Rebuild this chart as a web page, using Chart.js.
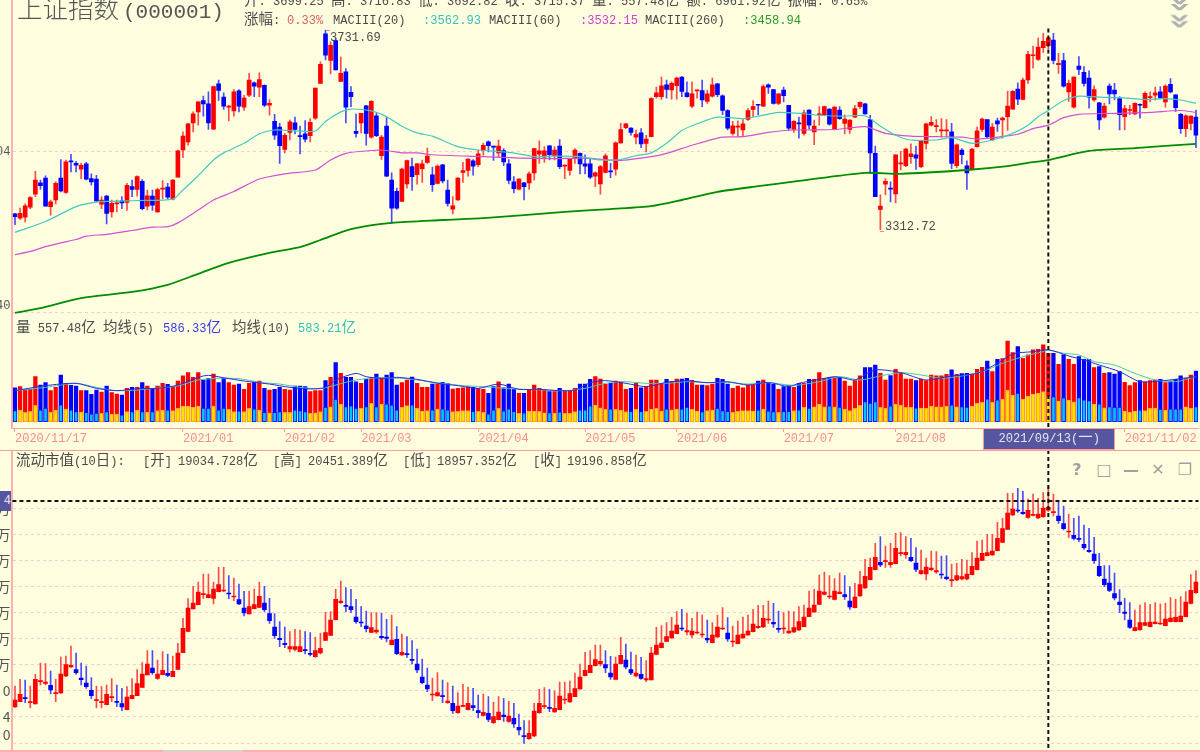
<!DOCTYPE html>
<html>
<head>
<meta charset="utf-8">
<title>上证指数(000001)</title>
<script src="https://cdn.jsdelivr.net/npm/chart.js@4"></script>
<style>
html, body { margin: 0; padding: 0; background: #ffffe0; }
#page { position: relative; width: 1200px; height: 752px; overflow: hidden; background: #ffffe0; }
canvas { position: absolute; left: 0; display: block; }
.txt { position: absolute; white-space: pre; font: 12.08px/16px "Liberation Mono", monospace; color: #4a4a4a; }
.txt .cjk { font-family: "Noto Sans CJK SC"; font-size: 14.5px; line-height: 0; }
.rule { position: absolute; left: 0; width: 1200px; height: 1px; background: #ff9c9c; }
</style>
</head>
<body>
<div id="page">
  <canvas id="price-chart" width="1200" height="318" style="top:0"></canvas>
  <canvas id="volume-chart" width="1200" height="132" style="top:318px"></canvas>
  <canvas id="cap-chart" width="1200" height="300" style="top:450px"></canvas>
</div>
<script>
// --- Price candles (index points) ---
const priceHigh = [
3347,3358,3367,3382,3435,3417,3426,3375,3413,3460,3459,3471,3456,3452,3454,3430,3427,3382,3385,3375,
3375,3382,3410,3417,3426,3418,3396,3396,3400,3416,3410,3418,3480,3518,3536,3560,3581,3593,3602,3614,
3627,3600,3574,3607,3607,3595,3641,3623,3642,3617,3586,3555,3536,3515,3543,3549,3530,3542,3546,3610,
3665,3732,3707,3714,3675,3651,3613,3556,3557,3574,3584,3557,3511,3549,3432,3400,3442,3459,3463,3452,
3459,3484,3444,3449,3450,3417,3382,3422,3454,3462,3460,3480,3494,3499,3488,3501,3483,3460,3424,3420,
3412,3434,3483,3499,3487,3490,3487,3502,3449,3462,3483,3474,3470,3461,3434,3448,3472,3452,3497,3536,
3536,3527,3522,3525,3511,3590,3612,3633,3627,3623,3633,3634,3623,3623,3606,3627,3606,3631,3620,3596,
3565,3540,3541,3544,3567,3584,3576,3617,3619,3607,3598,3612,3574,3542,3549,3564,3565,3543,3571,3572,
3567,3571,3571,3554,3544,3574,3581,3578,3553,3488,3386,3420,3413,3470,3477,3484,3493,3488,3501,3536,
3550,3544,3546,3544,3536,3493,3483,3457,3483,3528,3547,3544,3536,3547,3549,3603,3605,3621,3631,3687,
3698,3715,3725,3716.83,3725,3683,3683,3627,3634,3676,3655,3646,3615,3580,3578,3619,3620,3592,3574,3574,
3579,3577,3602,3602,3612,3613,3617,3630,3596,3557,3554,3552,3564];
const priceLow = [
3323,3334,3329,3357,3382,3398,3362,3343,3367,3392,3389,3434,3434,3420,3417,3406,3371,3357,3325,3339,
3350,3357,3353,3382,3383,3354,3354,3353,3349,3378,3378,3375,3423,3464,3490,3518,3532,3551,3523,3523,
3584,3565,3541,3551,3560,3563,3592,3592,3592,3571,3553,3502,3452,3474,3501,3514,3472,3497,3497,3544,
3620,3669,3640,3648,3624,3537,3571,3507,3516,3490,3505,3508,3460,3424,3326,3355,3372,3400,3395,3408,
3412,3452,3393,3409,3411,3362,3346,3374,3412,3425,3427,3445,3469,3476,3458,3466,3447,3409,3390,3396,
3375,3397,3417,3452,3454,3459,3459,3441,3420,3427,3452,3430,3430,3420,3403,3387,3432,3422,3427,3494,
3525,3511,3493,3485,3476,3508,3589,3586,3589,3587,3587,3592,3591,3569,3589,3571,3578,3591,3592,3554,
3522,3511,3509,3509,3542,3550,3554,3571,3599,3576,3575,3581,3521,3517,3505,3511,3525,3491,3532,3552,
3532,3522,3544,3514,3515,3548,3567,3555,3431,3382,3312.72,3386,3371,3369,3438,3445,3452,3439,3443,3482,
3530,3518,3507,3508,3441,3443,3451,3397,3438,3486,3519,3505,3500,3519,3505,3521,3566,3575,3585,3620,
3652,3668,3685,3692.82,3661,3641,3612,3582,3568,3638,3614,3568,3582,3523,3547,3577,3585,3522,3522,3554,
3554,3547,3568,3581,3585,3588,3570,3600,3561,3515,3508,3522,3485];
const priceOpen = [
3346,3337,3339,3360,3387,3411,3421,3361,3375,3421,3391,3457,3452,3440,3451,3420,3419,3366,3383,3350,
3367,3373,3370,3403,3397,3414,3362,3383,3350,3398,3402,3377,3423,3480,3497,3537,3560,3584,3577,3524,
3619,3591,3570,3562,3604,3570,3595,3621,3612,3616,3574,3540,3528,3481,3517,3537,3509,3514,3510,3547,
3620,3724,3668,3710,3624,3644,3601,3519,3537,3573,3507,3552,3468,3530,3417,3393,3372,3409,3445,3428,
3441,3454,3428,3410,3449,3396,3356,3375,3433,3437,3457,3449,3479,3497,3487,3474,3479,3451,3413,3398,
3411,3411,3432,3471,3465,3489,3468,3488,3446,3437,3462,3473,3451,3451,3425,3409,3433,3436,3440,3495,
3527,3526,3507,3516,3494,3508,3592,3592,3617,3606,3615,3633,3600,3572,3604,3605,3582,3593,3619,3594,
3563,3515,3528,3522,3544,3565,3575,3572,3617,3607,3578,3606,3574,3523,3537,3515,3564,3518,3554,3554,
3566,3523,3564,3536,3523,3549,3571,3577,3544,3473,3355,3408,3400,3388,3451,3447,3466,3470,3445,3494,
3532,3529,3520,3520,3518,3447,3480,3447,3440,3487,3523,3544,3501,3541,3543,3550,3566,3608,3586,3627,
3678,3670,3695,3699.25,3711,3659,3668,3602,3570,3656,3643,3631,3585,3579,3549,3614,3606,3588,3550,3563,
3556,3576,3569,3590,3595,3602,3581,3618,3596,3555,3525,3536,3549];
const priceClose = [
3340,3347,3363,3380,3417,3405,3362,3371,3410,3394,3455,3455,3448,3448,3419,3413,3373,3375,3347,3368,
3368,3369,3406,3397,3424,3357,3384,3364,3397,3400,3381,3417,3478,3509,3535,3556,3581,3577,3537,3613,
3605,3572,3572,3602,3572,3589,3627,3614,3628,3574,3578,3511,3489,3511,3539,3523,3508,3503,3538,3610,
3660,3679,3700,3648,3641,3570,3592,3515,3557,3515,3582,3510,3507,3425,3358,3358,3440,3458,3424,3451,
3451,3467,3407,3446,3415,3368,3363,3421,3437,3461,3446,3472,3490,3489,3486,3488,3455,3416,3399,3419,
3403,3430,3483,3478,3478,3470,3480,3445,3447,3461,3480,3451,3446,3423,3432,3445,3468,3434,3495,3523,
3535,3517,3513,3493,3503,3588,3600,3615,3607,3620,3631,3603,3592,3598,3605,3585,3598,3617,3596,3563,
3526,3531,3529,3535,3563,3571,3574,3613,3612,3578,3598,3594,3526,3540,3535,3558,3532,3530,3555,3571,
3534,3570,3546,3545,3543,3567,3580,3556,3474,3382,3362,3414,3398,3470,3452,3482,3472,3463,3499,3535,
3538,3530,3521,3522,3452,3491,3470,3432,3482,3520,3545,3508,3528,3535,3547,3572,3603,3587,3627,3681,
3680,3696,3708,3715.37,3668,3662,3614,3620,3633,3649,3620,3591,3607,3543,3572,3598,3598,3554,3567,3564,
3578,3574,3599,3592,3600,3589,3614,3602,3569,3525,3552,3551,3511];

// --- Moving averages on the price panel, read at the trading days listed ---
const ma20Days = [0,6,12,15,18,24,31,33,36,39,41,45,48,51,55,59,61,64,66,70,73,76,79,82,87,91,96,99,102,106,111,115,119,122,125,128,131,134,138,143,146,150,154,158,163,167,170,173,176,181,184,188,192,196,199,201,203,206,209,213,217,222,226,229,232];
const ma20 = [3307,3330,3361,3369,3372,3374,3377,3396,3426,3459,3474,3494,3514,3522,3520,3520,3540,3560,3566,3562,3550,3530,3516,3509,3487,3480,3476,3472,3466,3467,3466,3459,3460,3468,3474,3494,3521,3535,3549,3546,3551,3559,3557,3553,3551,3552,3530,3511,3501,3501,3506,3494,3501,3515,3532,3550,3562.93,3584,3593,3591,3590,3586,3588,3585,3578];
const ma60Days = [0,3,6,9,12,14,18,23,27,30,32,36,39,43,48,53,59,62,65,70,73,76,79,82,92,99,106,112,117,119,125,128,133,139,143,148,153,161,167,171,176,181,186,189,193,197,200,203,206,209,216,223,229,232];
const ma60 = [3260,3267,3277,3285,3292,3299,3303,3311,3318,3319,3327,3354,3375,3393,3419,3430,3438,3459,3473,3479,3479,3474,3474,3470,3466,3463,3462,3463,3459,3458,3466,3473,3490,3507,3508,3517,3522,3523,3529,3515,3509,3508,3507,3503,3507,3513,3525,3532.15,3548,3555,3557,3559,3563,3559];
const ma260Days = [0,5,13,23,30,36,42,50,56,60,66,74,84,92,108,117,125,131,138,146,154,167,174,187,195,199,203,211,220,232];
const ma260 = [3138,3148,3169,3182,3197,3220,3243,3264,3276,3291,3314,3327,3333,3337,3350,3356,3362,3375,3392,3404,3415,3432,3430,3438,3446,3453,3458.94,3478,3484,3493];
const priceTickValues = [3476, 3138];
const priceTickLabels = ['04', ['40', '']];

// --- Volume (亿) ---
const volTotal = [
277,286,258,264,367,299,318,253,280,381,313,296,291,253,253,223,258,242,291,237,
226,218,272,280,280,318,291,272,291,313,305,286,332,373,400,362,400,340,354,389,
318,354,318,299,307,264,313,326,332,272,258,264,280,264,258,291,291,286,245,253,
253,335,362,481,394,362,362,326,313,345,362,389,354,381,400,299,318,340,364,313,
280,280,307,307,321,310,267,272,277,286,280,272,264,231,286,326,277,307,264,231,
231,258,299,272,258,245,245,272,253,250,272,307,307,345,367,348,305,313,332,326,
264,272,313,277,286,340,340,313,345,329,348,348,354,337,299,299,294,307,354,345,
307,272,291,277,299,299,332,340,313,305,264,286,294,280,313,313,345,345,400,354,
362,364,359,332,291,335,373,441,441,462,394,340,375,427,394,348,348,335,348,335,
381,373,373,386,422,386,392,394,389,427,443,495,408,509,514,658,563,612,517,544,
585,590,626,557.48,558,468,544,509,468,530,509,509,441,449,394,400,389,408,321,294,
318,335,326,335,340,345,318,332,345,373,354,381,413];
const volLow = [
90,95,76,84,133,95,109,79,95,136,103,95,82,79,76,63,68,68,82,63,
63,54,82,82,95,82,79,82,90,95,95,90,109,128,128,117,128,109,109,128,
95,109,101,82,87,82,109,103,95,76,73,76,82,76,76,95,90,82,68,73,
82,117,122,182,144,122,128,109,109,122,150,122,144,144,136,95,117,131,136,109,
87,90,95,103,103,95,82,84,90,90,84,84,76,63,95,109,87,103,84,68,
71,87,87,84,73,73,71,79,68,68,82,95,95,128,136,114,101,103,101,95,
82,84,101,84,84,103,109,87,103,98,103,103,117,101,87,82,90,95,109,90,
84,76,84,90,90,87,95,103,87,82,76,84,84,90,95,117,109,122,144,122,
128,122,117,103,90,109,133,163,150,163,117,112,128,144,136,117,117,112,112,109,
128,122,122,128,136,122,122,117,128,150,158,185,158,177,185,258,218,231,185,209,
226,231,245,204,204,169,196,177,163,196,177,171,144,144,114,122,117,117,87,79,
87,95,90,109,112,101,95,103,103,103,122,109,122];
const volMa5Days = [0,6,12,16,20,24,28,32,36,38,42,46,50,54,58,61,63,67,69,72,75,76,79,83,87,91,95,99,103,107,110,113,116,120,124,128,132,136,140,144,148,152,154,158,161,163,165,169,174,179,184,189,193,196,200,203,207,210,213,217,221,225,232];
const volMa5 = [253,294,313,272,253,269,272,299,362,378,351,326,307,280,267,280,340,394,367,354,362,359,345,313,294,272,307,264,264,253,258,318,335,313,286,321,334,318,326,299,321,286,313,345,367,354,340,422,400,340,373,394,476,552,571,586.33,536,503,462,408,326,332,367];
const volMa10Days = [0,6,12,16,20,24,28,32,36,40,44,48,52,56,60,63,67,72,75,76,80,84,88,92,96,100,104,108,112,116,120,124,128,132,136,140,144,148,152,154,158,162,166,170,174,178,182,186,190,194,198,202,203,206,209,212,216,220,224,228,232];
const volMa10 = [253,280,313,280,253,258,275,291,340,354,351,321,307,280,269,299,340,359,354,354,335,313,294,286,272,264,258,253,272,313,326,313,313,326,318,321,307,318,299,299,326,367,340,373,400,381,354,373,408,476,530,571,583.21,558,544,490,462,394,340,326,367];

// --- Float market value candles (亿) ---
const capHigh = [
8480,8880,8840,8480,9180,9860,9820,9380,8880,10220,10280,10880,10460,9860,9680,8980,8480,8440,8540,8920,
8540,8340,8440,8920,9460,9880,10600,10600,10040,10540,10400,10280,11040,12540,13720,14460,14720,15200,15200,14700,
15600,15600,15100,14960,14600,14160,14180,14300,14700,14460,13740,12820,12340,12020,11740,11880,11840,11740,11680,11400,
11640,12900,12940,14280,14780,14380,14280,13680,13240,12980,12880,12880,12840,12480,12740,12040,11600,11440,11200,10700,
10100,9560,8960,9280,8840,8680,8480,8080,8580,8420,8340,7940,8000,7840,7500,7840,7740,7560,7440,6800,
6400,6400,7440,8280,8380,8280,8180,8720,8720,8780,9260,9800,10500,10600,10940,10940,10600,10260,10220,11400,
11000,10520,10340,10200,10000,10800,12000,12100,12280,12600,12940,13080,12840,12540,12920,12740,12440,12280,12740,13180,
12580,12080,12380,12620,12740,13080,13320,13320,13580,13440,12980,12880,12980,12940,13240,13340,14180,14280,15140,15320,
15100,14920,15260,15100,14440,14640,15360,16080,16160,17040,17440,16880,17040,17640,17680,17440,17340,16780,16640,16160,
16580,16540,16280,16300,15800,15840,16080,16040,16480,17180,17240,17580,17580,18300,18540,20040,20040,20340,20160,19700,
20000,19740,20080,20451.389,20000,19540,19280,18780,18540,18680,18140,17940,17400,16440,15700,15700,15260,14260,13740,13480,
13040,13340,13480,13380,13480,13400,13440,13780,13680,13840,14140,15160,15400];
const capLow = [
7200,7540,7480,7160,7400,8540,8540,8000,7540,8040,9040,9600,9180,8540,8340,7720,7160,7160,7340,7540,
7240,7000,7040,7700,7900,8400,9140,9180,8880,9140,9040,9040,9480,10480,11740,13100,13340,13740,13760,13400,
14120,14140,13720,13600,13360,12680,12800,13100,13200,12920,12240,11340,10840,10780,10520,10580,10520,10400,10280,10200,
10400,11200,11500,12440,13440,12940,12880,12240,12040,11720,11680,11640,11280,11120,10940,10360,10320,10200,9800,9280,
8600,8140,7600,7880,7480,7440,6840,6840,7240,7040,7000,6560,6680,6340,6240,6440,6360,6300,6000,5540,
5040,5280,5440,6840,7140,6940,6900,7040,7400,7500,7840,8280,9080,9280,9680,9680,9280,8880,8880,9800,
9500,9160,9020,8880,8740,8840,10360,10760,11140,11340,11600,11800,11540,11380,11600,11400,11080,11060,11400,11860,
11160,10840,11000,11340,11520,11720,11940,12000,12240,12000,11700,11640,11640,11680,11800,12020,12640,12900,13360,13940,
13740,13640,14000,13680,13080,13160,13860,14340,14840,15440,15640,15600,15600,15800,16280,16140,15940,15340,15180,14840,
15400,15240,14940,14840,14440,14800,14840,14840,15140,15440,16000,16280,16320,16580,17100,17880,18700,18900,18780,18540,
18680,18520,18600,18957.352,18680,18240,17840,17380,17240,17140,16680,16500,15840,15040,14440,14140,13640,12880,12440,11940,
11780,11820,12100,12020,12200,12160,12080,12320,12320,12320,12620,13400,14040];
const capOpen = [
7220,7540,7760,7480,7400,8740,8640,8520,8020,8060,9080,9620,9460,8960,8660,8220,7600,7480,7360,7780,
7560,7420,7060,7720,7900,8400,9140,9560,8940,9160,9240,9040,9480,10480,11760,13100,13360,13960,13780,13740,
14140,14180,14060,13820,13660,13160,12800,13120,13200,13460,12820,12020,11340,11040,10700,10680,10540,10640,10440,10240,
10460,11220,11520,12460,13480,13320,13240,12620,12320,12080,11700,11720,11460,11420,10960,11280,10340,10420,10080,9800,
9020,8540,7940,7880,7880,7480,7440,6880,7260,7060,7300,7000,6720,6840,6280,6460,6740,6360,6540,6000,
5500,5320,5480,6880,7240,7200,6920,7060,7640,7520,7840,8300,9100,9280,9700,9800,9760,9260,8880,9820,
10040,9460,9080,9180,8840,8840,10380,10780,11160,11360,11620,11960,11720,11540,11660,11540,11340,11080,11420,11900,
11660,11120,11020,11360,11540,11740,11980,12020,12440,12300,11940,11900,11660,11720,11840,12040,12640,12920,13380,13980,
13820,13680,14020,13960,13580,13180,13880,14360,14860,15460,15900,15940,15760,15820,16420,16360,16200,15860,15220,15200,
15460,15320,15200,15020,14800,14840,14900,14900,15160,15460,16020,16300,16340,16600,17100,17880,18740,19040,18900,18600,
18720,18560,18640,19034.728,18880,18680,18220,17720,17520,17340,16980,16620,16400,15660,14900,14660,14020,13520,12920,12440,
11800,11860,12120,12040,12220,12200,12100,12340,12340,12340,12640,13440,14080];
const capClose = [
7640,7980,7720,7520,8880,8780,8720,8240,8060,9200,9760,9720,9280,8860,8440,7900,7640,7540,7980,7840,
7500,7220,7820,7920,8620,9200,9800,9280,9200,9420,9120,9360,10460,11940,13160,13460,14120,14020,13960,14300,
14560,14240,14000,13880,13400,12860,13240,13360,13860,13060,12400,11500,11260,10960,10840,10840,10840,10600,10380,10600,
10740,11680,12440,13680,13580,13260,13060,12340,12260,11920,11980,11840,11380,11340,11240,10420,10500,10360,10020,9440,
8680,8300,7980,8080,7840,7580,7000,7280,7300,7440,7180,6880,6900,6480,6640,6920,6640,6680,6200,5840,
5440,5640,6980,7440,7300,7140,7140,7880,7680,8020,8320,9020,9420,9720,10060,9960,9560,9020,9800,10320,
9620,9260,9260,8940,8920,10460,10940,11060,11440,11780,12140,11900,11800,11780,11720,11600,11240,11540,12020,11960,
11300,11160,11540,11600,11780,12200,12060,12540,12500,12200,11880,11940,11780,11980,12340,12620,13160,13340,14180,14120,
13880,14180,14120,13840,13220,13820,14560,15060,15600,16200,15740,16000,15900,16740,16480,16500,16000,15480,15400,15620,
15560,15400,15140,14920,14860,15100,15040,15200,15660,16160,16440,16480,16580,17340,17920,18860,19100,18980,18820,19020,
18780,18800,19160,19196.858,18920,18400,17920,17780,17340,17280,16780,16540,16000,15100,14560,14220,13760,13360,12840,12000,
11980,12280,12280,12320,12320,12260,12500,12560,12600,12680,13520,14220,14720];
const capTickValues = [19140,17580,16020,14460,12880,11320,9760,8220,6640,5040];
const capTickLabels = ['万','万','万','万','万','万','万','0','4',['0','']];

// --- Date axis ---
const dateTickDays = [0,33,53,68,91,112,130,151,173,218];
const dateTickLabels = ['2020/11/17','2021/01','2021/02','2021/03','2021/04','2021/05','2021/06','2021/07','2021/08','2021/11/02'];
const crossDay = 203;
const crossCap = 19580;
const days = priceHigh.map((v, i) => String(i));

const RED = '#ff0000', BLUE = '#0000ff', RED_WICK = '#ff4a4a', BLUE_WICK = '#4a4aff';
const PINK = '#ffb0b0', GRID = '#ffcaca';
const AXIS_WIDTH = 12.45;

// turns a few read points into a full-length series, gaps are bridged by spanGaps
function sparse(dayList, values) {
    const out = days.map(() => null);
    dayList.forEach((d, k) => { out[d] = values[k]; });
    return out;
}

function lineSet(data, color, width) {
    return { type: 'line', data, borderColor: color, borderWidth: width, pointRadius: 0, spanGaps: true, tension: 0.25, order: 1 };
}

function candleSets(open, high, low, close) {
    const up = close.map((c, i) => c >= open[i]);
    return [
        {
            data: days.map((d, i) => [low[i], high[i]]),
            backgroundColor: up.map(u => u ? RED_WICK : BLUE_WICK),
            barThickness: 1, grouped: false, order: 4
        },
        {
            data: days.map((d, i) => [open[i], close[i]]),
            backgroundColor: up.map(u => u ? RED : BLUE),
            barThickness: 4, grouped: false, minBarLength: 1, order: 3
        }
    ];
}

function yAxis(min, max, tickValues, tickLabels, font) {
    return {
        min, max, position: 'left',
        grid: { display: tickValues.length > 0, color: GRID, drawTicks: false, tickLength: 0 },
        border: { display: true, color: PINK, width: 2, dash: [3, 3] },
        ticks: {
            display: tickValues.length > 0, padding: 2, autoSkip: false, color: '#555', font,
            callback: (v, i) => tickLabels[i]
        },
        afterBuildTicks: axis => { axis.ticks = tickValues.map(value => ({ value })); },
        afterFit: axis => { axis.width = AXIS_WIDTH; axis.paddingTop = 0; axis.paddingBottom = 0; }
    };
}

// dashed crosshair through the selected day, plus the horizontal one on the lower panel
const crosshair = {
    id: 'crosshair',
    afterDatasetsDraw(chart, args, opts) {
        const { ctx, chartArea, scales } = chart;
        const x = scales.x.getPixelForValue(crossDay);
        ctx.save();
        ctx.strokeStyle = '#111';
        ctx.lineWidth = 2;
        ctx.setLineDash([4, 3]);
        ctx.beginPath();
        ctx.moveTo(x, opts.topValue != null ? scales.y.getPixelForValue(opts.topValue) : chartArea.top);
        ctx.lineTo(x, chartArea.bottom);
        if (opts.crossValue != null) {
            const y = scales.y.getPixelForValue(opts.crossValue);
            ctx.moveTo(chartArea.left, y);
            ctx.lineTo(chartArea.right, y);
        }
        ctx.stroke();
        ctx.restore();
    }
};

function baseOptions(yScale, xScale, crossOpts) {
    return {
        responsive: false, animation: false, devicePixelRatio: 1,
        layout: { padding: { left: 0, right: 1.5, top: 0, bottom: 0 } },
        plugins: { legend: { display: false }, tooltip: { enabled: false }, crosshair: crossOpts },
        scales: { x: xScale, y: yScale }
    };
}

const hiddenX = { type: 'category', display: false, offset: true };

new Chart(document.getElementById('price-chart'), {
    type: 'bar',
    plugins: [crosshair],
    data: {
        labels: days,
        datasets: [
            ...candleSets(priceOpen, priceHigh, priceLow, priceClose),
            lineSet(sparse(ma20Days, ma20), '#45c8c0', 1.2),
            lineSet(sparse(ma60Days, ma60), '#d24fd2', 1.2),
            lineSet(sparse(ma260Days, ma260), '#008c00', 1.8)
        ]
    },
    options: baseOptions(
        yAxis(3127.2, 3795, priceTickValues, priceTickLabels, { family: 'Liberation Mono', size: 12 }),
        hiddenX,
        { topValue: 3735 }
    )
});

const volUp = priceClose.map((c, i) => c >= priceOpen[i]);
new Chart(document.getElementById('volume-chart'), {
    type: 'bar',
    plugins: [crosshair],
    data: {
        labels: days,
        datasets: [
            {
                data: volTotal,
                backgroundColor: volUp.map(u => u ? RED : BLUE),
                barThickness: 3.6, grouped: false, order: 3
            },
            {
                data: volLow,
                backgroundColor: volUp.map(u => u ? '#ffe000' : '#00c4ff'),
                borderColor: volUp.map(u => u ? '#ff9a00' : BLUE),
                borderWidth: 0.8, borderSkipped: false,
                barThickness: 3.6, grouped: false, order: 2
            },
            lineSet(sparse(volMa5Days, volMa5), '#2a2ae0', 1),
            lineSet(sparse(volMa10Days, volMa10), '#45c8b0', 1)
        ]
    },
    options: baseOptions(
        yAxis(-51, 845, [], [], { family: 'Liberation Mono', size: 12 }),
        {
            type: 'category', offset: true,
            grid: { drawOnChartArea: false, drawTicks: true, tickLength: 4, tickColor: '#ff9c9c', offset: false },
            border: { display: true, color: '#ff9c9c', width: 1 },
            ticks: {
                autoSkip: false, maxRotation: 0, align: 'start', padding: 0,
                color: '#ff8c8c', font: { family: 'Liberation Mono', size: 12 },
                callback: (v, i) => dateTickLabels[i]
            },
            afterBuildTicks: axis => { axis.ticks = dateTickDays.map(value => ({ value })); },
            afterFit: axis => { axis.height = 22; axis.paddingLeft = 0; axis.paddingRight = 0; }
        },
        {}
    )
});

new Chart(document.getElementById('cap-chart'), {
    type: 'bar',
    plugins: [crosshair],
    data: {
        labels: days,
        datasets: candleSets(capOpen, capHigh, capLow, capClose)
    },
    options: baseOptions(
        yAxis(4640, 22640, capTickValues, capTickLabels, { family: 'Noto Sans CJK SC', size: 14 }),
        hiddenX,
        { crossValue: crossCap }
    )
});

// --- Header texts and window furniture ---
const page = document.getElementById('page');

function addText(x, y, text, color, extra) {
    const el = document.createElement('div');
    el.className = 'txt';
    el.style.left = x + 'px';
    el.style.top = (y - 7) + 'px';
    if (color) el.style.color = color;
    if (extra) Object.assign(el.style, extra);
    el.innerHTML = text.replace(/[\u4e00-\u9fff]+/g, '<span class="cjk">$&</span>');
    page.appendChild(el);
    return el;
}

function addRule(y, height, color, left, width) {
    const el = document.createElement('div');
    el.className = 'rule';
    el.style.top = y + 'px';
    el.style.height = height + 'px';
    el.style.background = color;
    if (left != null) { el.style.left = left + 'px'; el.style.width = width + 'px'; }
    page.appendChild(el);
}

addRule(450, 1, '#ff9c9c');
addRule(750, 2, '#ffb0b0');
addRule(750, 2, '#d8d0c8', 163, 80);
addRule(30, 1, '#ff8080', 326, 4);
addRule(231, 1, '#ff8080', 880, 4);

const titleEl = addText(17, 7, '', '#555');
titleEl.innerHTML = '<span style="font:300 25.5px/30px \'Noto Sans CJK SC\'">上证指数</span><span style="font:21px/30px \'Liberation Mono\';margin-left:4px">(000001)</span>';
titleEl.style.top = '-8px';

addText(244, 1, '开: 3699.25 高: 3716.83 低: 3692.82 收: 3715.37 量: 557.48亿 额: 6961.92亿 振幅: 0.65%');
addText(244, 20, '涨幅:');
addText(287, 20, '0.33%', '#d86060');
addText(333, 20, 'MACIII(20)');
addText(423, 20, ':3562.93', '#38bcbc');
addText(489, 20, 'MACIII(60)');
addText(580, 20, ':3532.15', '#d040d0');
addText(645, 20, 'MACIII(260)');
addText(743, 20, ':3458.94', '#2a9a2a');

addText(330, 37, '3731.69');
addText(885, 226, '3312.72');

addText(16, 328, '量 557.48亿 均线(5)');
addText(163, 328, '586.33亿', '#3a3ae8');
addText(232, 328, '均线(10)');
addText(298, 328, '583.21亿', '#38bcbc');

addText(16, 461, '流动市值(10日):');
addText(143, 461, '[开]');
addText(178, 461, '19034.728亿');
addText(273, 461, '[高]');
addText(308, 461, '20451.389亿');
addText(403, 461, '[低]');
addText(437, 461, '18957.352亿');
addText(533, 461, '[收]');
addText(567, 461, '19196.858亿');

// date box on the axis strip, value box on the left
const boxStyle = { background: '#5555a0', color: '#e6e6f4', lineHeight: '21px' };
addText(983, 439, '  2021/09/13(一)', null, Object.assign({ width: '132px', height: '22px', border: '1px solid #ff9c9c', top: '428px', boxSizing: 'border-box' }, boxStyle));
addText(0, 501, '4', null, Object.assign({ width: '11px', height: '20px', top: '491px', textAlign: 'right' }, boxStyle));

// panel buttons
['?', '□', '—', '✕', '❐'].forEach((s, i) => {
    addText(1069 + i * 27, 469, s, '#a0a0a0', { font: 'bold 16px/16px "DejaVu Sans"', width: '16px', textAlign: 'center' });
});
addText(1173, 3, '»', '#b0b0b0', { font: 'bold 26px/16px "DejaVu Sans"', transform: 'rotate(90deg) scale(1, 1.5)' });
addText(1173, 20, '»', '#b0b0b0', { font: 'bold 26px/16px "DejaVu Sans"', transform: 'rotate(90deg) scale(1, 1.5)' });
</script>
</body>
</html>
